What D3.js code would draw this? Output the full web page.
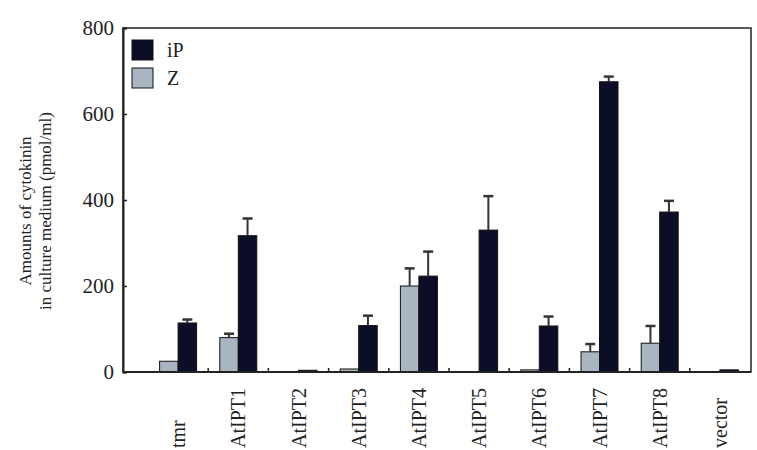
<!DOCTYPE html>
<html>
<head>
<meta charset="utf-8">
<script src="https://cdn.jsdelivr.net/npm/d3@7"></script>
<style>
  body { margin: 0; background: #fff; }
  text { font-family: "Liberation Serif", "DejaVu Serif", serif; fill: #222; }
</style>
</head>
<body>
<div id="chart"></div>
<script>
// values
var categories = ["tmr", "AtIPT1", "AtIPT2", "AtIPT3", "AtIPT4", "AtIPT5", "AtIPT6", "AtIPT7", "AtIPT8", "vector"];
var zValues   = [25, 80, 0, 7, 200, 0, 5, 47, 67, 0];
var zErrors   = [0, 9, 0, 0, 41, 0, 0, 18, 40, 0];
var ipValues  = [114, 317, 4, 108, 223, 330, 107, 675, 372, 5];
var ipErrors  = [8, 40, 0, 23, 57, 79, 22, 12, 26, 0];
var yTicks    = [0, 200, 400, 600, 800];
var seriesNames = ["iP", "Z"];

var width = 757, height = 450;
var margin = {top: 28, right: 5, bottom: 78, left: 123};

var svg = d3.select("#chart").append("svg")
  .attr("width", width)
  .attr("height", height);

var x = d3.scaleBand().domain(categories).range([148, 750]);
var y = d3.scaleLinear().domain([0, 800]).range([height - margin.bottom, margin.top]);

var barW = 18.5;
var colors = {iP: "#0c0e28", Z: "#a9b6c2"};

var g = svg.append("g");

// frame
g.append("rect")
  .attr("x", margin.left)
  .attr("y", y(800))
  .attr("width", width - margin.right - margin.left - 1)
  .attr("height", y(0) - y(800))
  .style("fill", "none")
  .style("stroke", "#222")
  .style("stroke-width", 1.5);

// y axis, ticks pointing inward
var yAxis = g.append("g")
  .attr("transform", "translate(" + margin.left + ",0)")
  .call(d3.axisRight(y).tickValues(yTicks).tickSize(4).tickFormat(""));
yAxis.select(".domain").style("stroke", "#222").style("stroke-width", 2);
yAxis.selectAll(".tick line").style("stroke", "#222").style("stroke-width", 1.5);

g.selectAll(".ylab")
  .data(yTicks)
  .enter().append("text")
  .attr("x", margin.left - 9)
  .attr("y", function(d) { return y(d); })
  .attr("dy", "0.35em")
  .style("text-anchor", "end")
  .style("font-size", "21px")
  .text(function(d) { return d; });

// x ticks between groups, pointing up
g.selectAll(".xtick")
  .data(categories.slice(0, categories.length - 1))
  .enter().append("line")
  .attr("x1", function(d) { return x(d) + x.bandwidth(); })
  .attr("x2", function(d) { return x(d) + x.bandwidth(); })
  .attr("y1", y(0))
  .attr("y2", y(0) - 4)
  .style("stroke", "#222")
  .style("stroke-width", 1.5);

// bars
function drawSeries(vals, errs, color, offset) {
  var grp = g.append("g");
  grp.selectAll("rect")
    .data(vals)
    .enter().append("rect")
    .attr("x", function(d, i) { return x(categories[i]) + x.bandwidth() / 2 + offset; })
    .attr("y", function(d) { return y(d); })
    .attr("width", barW)
    .attr("height", function(d) { return y(0) - y(d); })
    .style("fill", color)
    .style("stroke", "#111")
    .style("stroke-width", function(d) { return d > 0 ? 1 : 0; });

  var eb = grp.selectAll(".err")
    .data(vals.map(function(v, i) { return {v: v, e: errs[i], c: categories[i]}; })
      .filter(function(d) { return d.e > 0; }))
    .enter().append("g");
  eb.append("line")
    .attr("x1", function(d) { return x(d.c) + x.bandwidth() / 2 + offset + barW / 2; })
    .attr("x2", function(d) { return x(d.c) + x.bandwidth() / 2 + offset + barW / 2; })
    .attr("y1", function(d) { return y(d.v); })
    .attr("y2", function(d) { return y(d.v + d.e); })
    .style("stroke", "#333")
    .style("stroke-width", 2);
  eb.append("line")
    .attr("x1", function(d) { return x(d.c) + x.bandwidth() / 2 + offset + barW / 2 - 5; })
    .attr("x2", function(d) { return x(d.c) + x.bandwidth() / 2 + offset + barW / 2 + 5; })
    .attr("y1", function(d) { return y(d.v + d.e); })
    .attr("y2", function(d) { return y(d.v + d.e); })
    .style("stroke", "#333")
    .style("stroke-width", 2.5);
}
drawSeries(zValues, zErrors, colors.Z, -barW);
drawSeries(ipValues, ipErrors, colors.iP, 0);

// redraw baseline above bars
g.append("line")
  .attr("x1", margin.left)
  .attr("x2", width - margin.right - 1)
  .attr("y1", y(0))
  .attr("y2", y(0))
  .style("stroke", "#222")
  .style("stroke-width", 2);

// x labels, rotated, bottom aligned
var xl = g.selectAll(".xlab")
  .data(categories)
  .enter().append("g")
  .attr("class", "xlab")
  .attr("transform", function(d) {
    return "translate(" + (x(d) + x.bandwidth() / 2) + ",448)";
  });
xl.append("text")
  .attr("transform", "rotate(-90)")
  .attr("dy", "0.35em")
  .style("text-anchor", "start")
  .style("font-size", "20px")
  .text(function(d) { return d; });

// legend
var legend = g.selectAll(".legend")
  .data(seriesNames)
  .enter().append("g")
  .attr("transform", function(d, i) { return "translate(132," + (40 + i * 28) + ")"; });
legend.append("rect")
  .attr("width", 21)
  .attr("height", 20)
  .style("fill", function(d) { return colors[d]; })
  .style("stroke", "#111")
  .style("stroke-width", 1);
legend.append("text")
  .attr("x", 35)
  .attr("y", 10)
  .attr("dy", "0.35em")
  .style("font-size", "20px")
  .text(function(d) { return d; });

// y axis title
var yt = g.append("text")
  .attr("transform", "translate(25,211) rotate(-90)")
  .style("text-anchor", "middle")
  .style("font-size", "17px");
yt.append("tspan").attr("x", 0).attr("dy", "0.35em").text("Amounts of cytokinin");
yt.append("tspan").attr("x", 0).attr("dy", "1.2em").text("in culture medium (pmol/ml)");
</script>
</body>
</html>
